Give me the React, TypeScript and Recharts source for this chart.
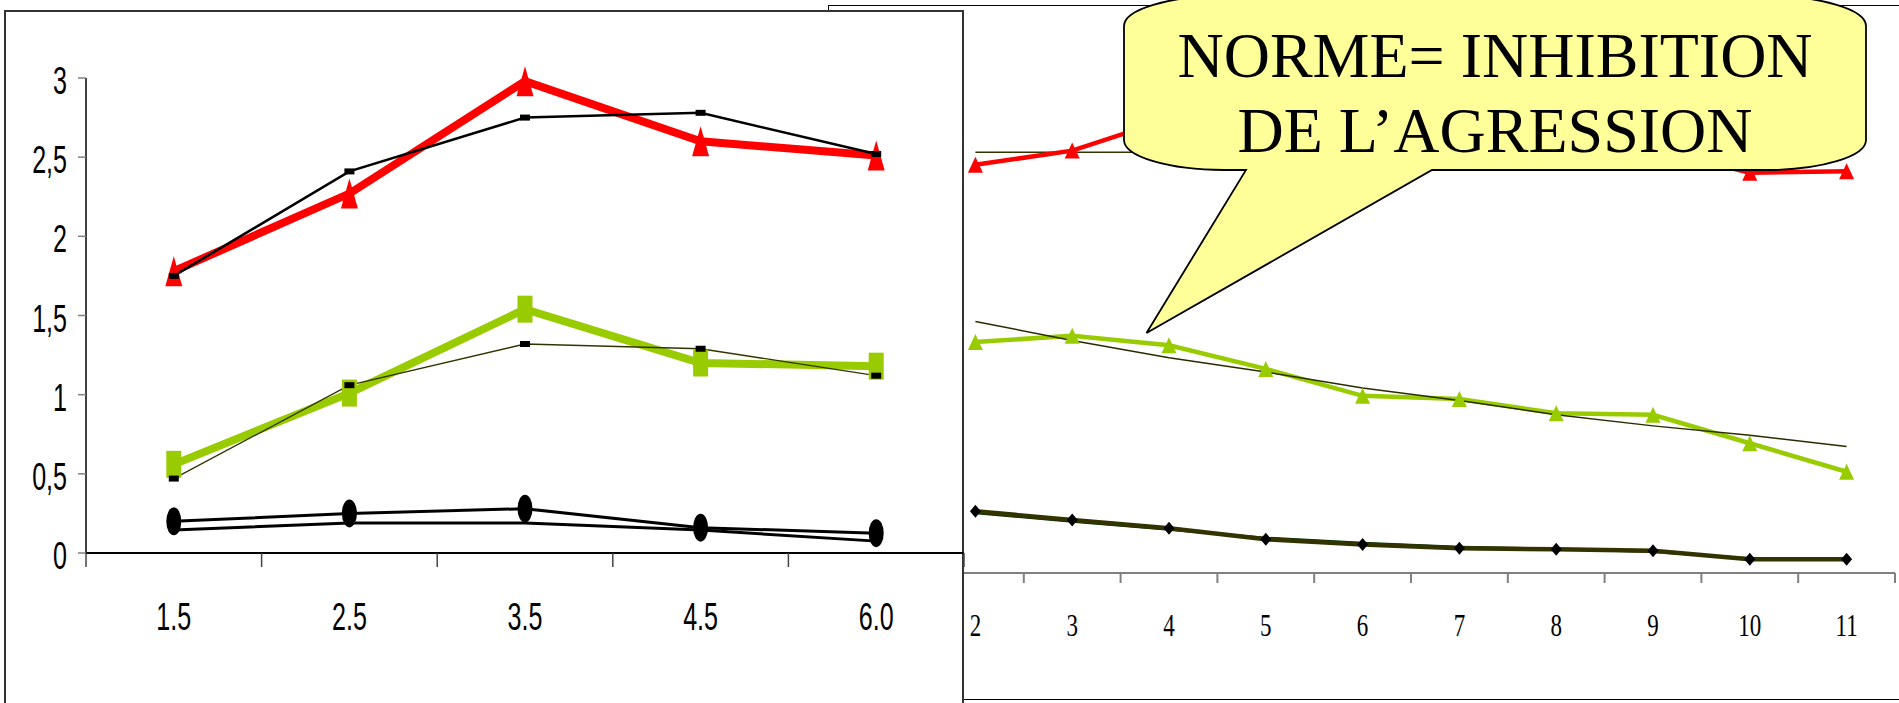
import { LineChart, Line, XAxis, YAxis } from "recharts";

// left panel: age groups
const leftCategories = ["1.5", "2.5", "3.5", "4.5", "6.0"];
const leftRed = [1.78, 2.27, 2.98, 2.6, 2.51];
const leftRedRef = [1.75, 2.41, 2.75, 2.78, 2.52];
const leftGreen = [0.56, 1.01, 1.54, 1.2, 1.18];
const leftGreenRef = [0.47, 1.06, 1.32, 1.29, 1.12];
const leftBlackHigh = [0.2, 0.25, 0.28, 0.16, 0.125];
const leftBlackLow = [0.145, 0.19, 0.19, 0.145, 0.075];
const leftYTicks = [0, 0.5, 1, 1.5, 2, 2.5, 3];

// right panel: ages 2..11
const rightCategories = [2, 3, 4, 5, 6, 7, 8, 9, 10, 11];
const rightRed = [2.58, 2.67, 2.87, 2.9, 2.85, 2.8, 2.75, 2.68, 2.53, 2.54];
const rightRedTrend = [2.66, 2.66, 2.66, 2.66, 2.66, 2.66, 2.66, 2.66, 2.66, 2.66];
const rightGreen = [1.46, 1.5, 1.44, 1.29, 1.12, 1.1, 1.01, 1.0, 0.82, 0.64];
const rightGreenTrend = [1.59, 1.47, 1.36, 1.27, 1.17, 1.09, 1.0, 0.93, 0.87, 0.8];
const rightBlack = [0.39, 0.335, 0.283, 0.213, 0.18, 0.156, 0.15, 0.141, 0.087, 0.087];
const rightBlackTrend = [0.38, 0.325, 0.275, 0.222, 0.19, 0.165, 0.152, 0.135, 0.092, 0.092];

const bubbleLines = ["NORME= INHIBITION", "DE L\u2019AGRESSION"];

const SANS = "'Liberation Sans', Arial, sans-serif";
const SERIF = "'Liberation Serif', 'Times New Roman', serif";
const RED = "#FF0000";
const GREEN = "#99CC00";

const leftData = leftCategories.map((label, i) => ({
  i,
  label,
  red: leftRed[i],
  redRef: leftRedRef[i],
  green: leftGreen[i],
  greenRef: leftGreenRef[i],
  high: leftBlackHigh[i],
  low: leftBlackLow[i],
}));

const rightData = rightCategories.map((x, i) => ({
  x,
  red: rightRed[i],
  redTrend: rightRedTrend[i],
  green: rightGreen[i],
  greenTrend: rightGreenTrend[i],
  black: rightBlack[i],
  blackTrend: rightBlackTrend[i],
}));

const leftXTicks = leftCategories.flatMap((_, i) => [i - 0.5, i]).concat(leftCategories.length - 0.5);
const rightXTicks = rightCategories.flatMap((c) => [c - 0.5, c]).concat(rightCategories[rightCategories.length - 1] + 0.5);

const triangle = (w: number, h: number, fill: string) => (p: any) => (
  <polygon
    key={p.index}
    points={`${p.cx},${p.cy - h / 2} ${p.cx - w / 2},${p.cy + h / 2} ${p.cx + w / 2},${p.cy + h / 2}`}
    fill={fill}
  />
);
const box = (w: number, h: number, fill: string) => (p: any) => (
  <rect key={p.index} x={p.cx - w / 2} y={p.cy - h / 2} width={w} height={h} fill={fill} />
);
const ellipse = (rx: number, ry: number) => (p: any) => (
  <ellipse key={p.index} cx={p.cx} cy={p.cy} rx={rx} ry={ry} fill="#000" />
);
const diamond = (w: number, h: number) => (p: any) => (
  <polygon
    key={p.index}
    points={`${p.cx},${p.cy - h / 2} ${p.cx + w / 2},${p.cy} ${p.cx},${p.cy + h / 2} ${p.cx - w / 2},${p.cy}`}
    fill="#000"
  />
);

function LeftXTick({ x, y, payload }: any) {
  const v = payload.value;
  if (Number.isInteger(v)) {
    return (
      <text transform={`translate(${x},${y + 77}) scale(0.66,1)`} textAnchor="middle" fontFamily={SANS} fontSize={38} fill="#000">
        {leftCategories[v]}
      </text>
    );
  }
  return <line x1={x} y1={y} x2={x} y2={y + 14} stroke="#444" strokeWidth={1.5} />;
}

function LeftYTick({ x, y, payload }: any) {
  return (
    <text transform={`translate(${x},${y + 16}) scale(0.66,1)`} textAnchor="end" fontFamily={SANS} fontSize={38} fill="#000">
      {String(payload.value).replace(".", ",")}
    </text>
  );
}

function RightXTick({ x, y, payload }: any) {
  const v = payload.value;
  if (Number.isInteger(v)) {
    return (
      <text transform={`translate(${x},${y + 63}) scale(1,1.35)`} textAnchor="middle" fontFamily={SERIF} fontSize={23} fill="#000">
        {v}
      </text>
    );
  }
  return <line x1={x} y1={y} x2={x} y2={y + 10} stroke="#808080" strokeWidth={2} />;
}

function RightChart() {
  return (
    <LineChart width={1899} height={703} data={rightData} margin={{ top: 98.4, right: 4, bottom: 70, left: 927 }}>
      <XAxis
        dataKey="x"
        type="number"
        domain={[1.5, 11.5]}
        ticks={rightXTicks}
        interval={0}
        tickLine={false}
        tickSize={0}
        tickMargin={0}
        height={60}
        tick={<RightXTick />}
        axisLine={{ stroke: "#808080", strokeWidth: 2 }}
      />
      <YAxis hide domain={[0, 3]} />
      <Line dataKey="redTrend" stroke="#333300" strokeWidth={1.5} dot={false} activeDot={false} isAnimationActive={false} />
      <Line dataKey="red" stroke={RED} strokeWidth={4.5} dot={triangle(15, 16, RED)} activeDot={false} isAnimationActive={false} />
      <Line dataKey="green" stroke={GREEN} strokeWidth={4.5} dot={triangle(15, 16, GREEN)} activeDot={false} isAnimationActive={false} />
      <Line dataKey="greenTrend" stroke="#2b2b00" strokeWidth={1.5} dot={false} activeDot={false} isAnimationActive={false} />
      <Line dataKey="blackTrend" stroke="#003300" strokeWidth={2.5} dot={false} activeDot={false} isAnimationActive={false} />
      <Line dataKey="black" stroke="#333300" strokeWidth={4.5} dot={diamond(11, 13)} activeDot={false} isAnimationActive={false} />
    </LineChart>
  );
}

function LeftChart() {
  return (
    <LineChart width={970} height={703} data={leftData} margin={{ top: 78, right: 6, bottom: 90, left: 26 }}>
      <XAxis
        dataKey="i"
        type="number"
        domain={[-0.5, 4.5]}
        ticks={leftXTicks}
        interval={0}
        tickLine={false}
        tickSize={0}
        tickMargin={0}
        height={60}
        tick={<LeftXTick />}
        axisLine={{ stroke: "#000", strokeWidth: 2 }}
      />
      <YAxis
        type="number"
        domain={[0, 3]}
        ticks={leftYTicks}
        interval={0}
        width={60}
        tickSize={8}
        tickMargin={11}
        tick={<LeftYTick />}
        tickLine={{ stroke: "#808080", strokeWidth: 1.5 }}
        axisLine={{ stroke: "#000", strokeWidth: 1.5 }}
      />
      <Line dataKey="red" stroke={RED} strokeWidth={8} dot={triangle(17, 30, RED)} activeDot={false} isAnimationActive={false} />
      <Line dataKey="redRef" stroke="#000" strokeWidth={2.5} dot={box(10, 6, "#000")} activeDot={false} isAnimationActive={false} />
      <Line dataKey="green" stroke={GREEN} strokeWidth={8} dot={box(15, 27, GREEN)} activeDot={false} isAnimationActive={false} />
      <Line dataKey="greenRef" stroke="#333300" strokeWidth={1.3} dot={box(10, 6, "#000")} activeDot={false} isAnimationActive={false} />
      <Line dataKey="low" stroke="#000" strokeWidth={3} dot={false} activeDot={false} isAnimationActive={false} />
      <Line dataKey="high" stroke="#000" strokeWidth={3} dot={ellipse(7.5, 14)} activeDot={false} isAnimationActive={false} />
    </LineChart>
  );
}

function Bubble() {
  const L = 1124, R = 1866, T = -4, B = 170, rx = 100, ry = 30;
  const d = [
    `M ${L + rx} ${T}`,
    `H ${R - rx}`,
    `A ${rx} ${ry} 0 0 1 ${R} ${T + ry}`,
    `V ${B - ry}`,
    `A ${rx} ${ry} 0 0 1 ${R - rx} ${B}`,
    `H 1432`,
    `L 1146.5 333`,
    `L 1246 ${B}`,
    `H ${L + rx}`,
    `A ${rx} ${ry} 0 0 1 ${L} ${B - ry}`,
    `V ${T + ry}`,
    `A ${rx} ${ry} 0 0 1 ${L + rx} ${T}`,
    "Z",
  ].join(" ");
  return (
    <svg width={1899} height={703} style={{ position: "absolute", left: 0, top: 0 }}>
      <path d={d} fill="#FFFF99" stroke="#000" strokeWidth={1.8} />
      {bubbleLines.map((t, k) => (
        <text key={t} x={1495} y={76.5 + k * 75} textAnchor="middle" fontFamily={SERIF} fontSize={64} fill="#000">
          {t}
        </text>
      ))}
    </svg>
  );
}

export default function App() {
  return (
    <div style={{ position: "absolute", left: 0, top: 0, width: 1899, height: 703, overflow: "hidden", background: "#fff" }}>
      <div
        style={{
          position: "absolute",
          left: 828,
          top: 5,
          width: 1100,
          height: 695,
          border: "1px solid #000",
          boxSizing: "border-box",
          background: "#fff",
        }}
      />
      <div style={{ position: "absolute", left: 0, top: 0 }}>
        <RightChart />
      </div>
      <div
        style={{
          position: "absolute",
          left: 4,
          top: 10,
          width: 960,
          height: 720,
          border: "2px solid #333",
          boxSizing: "border-box",
          background: "#fff",
        }}
      />
      <div style={{ position: "absolute", left: 0, top: 0 }}>
        <LeftChart />
      </div>
      <Bubble />
    </div>
  );
}
